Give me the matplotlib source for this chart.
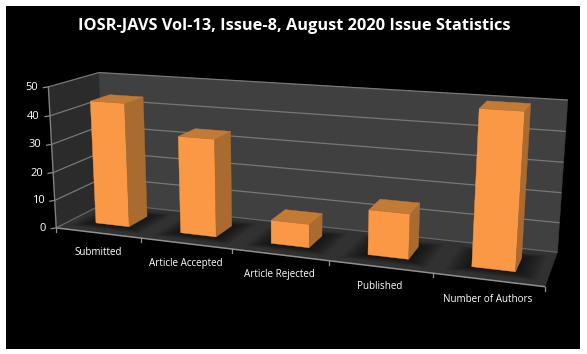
import numpy as np
import matplotlib
matplotlib.use("Agg")
import matplotlib.pyplot as plt
from matplotlib.patches import Polygon, Rectangle

title = "IOSR-JAVS Vol-13, Issue-8, August 2020 Issue Statistics"
categories = ["Submitted", "Article Accepted", "Article Rejected", "Published", "Number of Authors"]
values = [44, 34, 8, 15, 50]
y_ticks = [0, 10, 20, 30, 40, 50]

# calibration of the 3D scene: (category, value, depth) -> pixel
scene = [(0, 0, 0), (5, 0, 0), (5, 0, 1), (0, 0, 1), (0, 50, 0), (0, 50, 1), (5, 50, 1)]
pixels = [(57.3, 228), (545, 286.7), (557.7, 252.3), (103.5, 203), (47.3, 86.7), (100, 72.7), (567.7, 100)]

rows = []
for (X, Y, Z), (u, v) in zip(scene, pixels):
    rows.append([X, Y, Z, 1, 0, 0, 0, 0, -u*X, -u*Y, -u*Z, -u])
    rows.append([0, 0, 0, 0, X, Y, Z, 1, -v*X, -v*Y, -v*Z, -v])
P = np.linalg.svd(np.array(rows, float))[2][-1].reshape(3, 4)

def proj(x, y, z):
    h = P @ np.array([x, y, z, 1.0])
    return h[0] / h[2], h[1] / h[2]

fig = plt.figure(figsize=(5.87, 3.54), dpi=100, facecolor="white")
ax = fig.add_axes([0, 0, 1, 1])
ax.set_xlim(0, 587)
ax.set_ylim(354, 0)
ax.axis("off")
ax.add_patch(Rectangle((6, 6), 574, 343, fc="black", ec="none"))

def face(pts, color, z=2, alpha=None):
    lw = 0 if alpha is not None else 0.3
    ax.add_patch(Polygon([proj(*p) for p in pts], closed=True, fc=color, ec="none" if alpha is not None else color,
                         lw=lw, alpha=alpha, zorder=z))

def seg(a, b, color="#8a8a8a", lw=1.0, z=3):
    pa, pb = proj(*a), proj(*b)
    ax.plot([pa[0], pb[0]], [pa[1], pb[1]], color=color, lw=lw, zorder=z, solid_capstyle="butt")

xmax = len(categories)
ymax = y_ticks[-1]
face([(0, 0, 0), (0, ymax, 0), (0, ymax, 1), (0, 0, 1)], "#2b2b2b")
face([(0, 0, 1), (0, ymax, 1), (xmax, ymax, 1), (xmax, 0, 1)], "#404040")
face([(0, 0, 0), (xmax, 0, 0), (xmax, 0, 1), (0, 0, 1)], "#313131")

for t in y_ticks:
    if t > 0:
        seg((0, t, 0), (0, t, 1), "#777777", 0.9)
        seg((0, t, 1), (xmax, t, 1), "#777777", 0.9)
    else:
        seg((0, 0, 0), (0, 0, 1), "#666666", 0.9)
        seg((0, 0, 1), (xmax, 0, 1), "#666666", 0.9)
    u, v = proj(0, t, 0)
    ax.plot([u - 5, u], [v + 0.8, v], color="#8f8f8f", lw=0.9, zorder=3)
    ax.text(u - 10, v + 0.5, str(t), color="white", fontsize=8, family="Open Sans", ha="right", va="center", zorder=6)

seg((0, 0, 0), (0, ymax, 0), "#808080", 1.0)
seg((0, 0, 0), (xmax, 0, 0), "#8f8f8f", 1.1)
for i in range(xmax + 1):
    u, v = proj(i, 0, 0)
    ax.plot([u, u], [v, v + 4], color="#8f8f8f", lw=0.9, zorder=3)

for i, (name, val) in enumerate(zip(categories, values)):
    x0, x1 = i + 0.3, i + 0.7
    z0, z1 = 0.3, 0.7
    # soft floor shadow
    for grow in np.linspace(0.22, 0.01, 12):
        gx, gz = grow, grow * 0.8
        face([(x0 - gx, 0, z0 - gz), (x1 + gx, 0, z0 - gz), (x1 + gx, 0, z1 + gz), (x0 - gx, 0, z1 + gz)],
             "black", z=4, alpha=0.055)
    face([(x0, 0, z0), (x1, 0, z0), (x1, val, z0), (x0, val, z0)], "#FA9845", z=5)
    face([(x1, 0, z0), (x1, 0, z1), (x1, val, z1), (x1, val, z0)], "#A96B30", z=5)
    face([(x0, val, z0), (x1, val, z0), (x1, val, z1), (x0, val, z1)], "#C37A35", z=5)
    u, v = proj(i + 0.5, 0, 0)
    ax.text(u, v + 20, name, color="white", fontsize=7.1, family="Open Sans", ha="center", va="center", zorder=6)

ax.text(294, 26.5, title, color="white", fontsize=11.8, fontweight="bold", family="Open Sans",
        ha="center", va="center", zorder=6)
fig.savefig("out.png", dpi=100, facecolor="white")
